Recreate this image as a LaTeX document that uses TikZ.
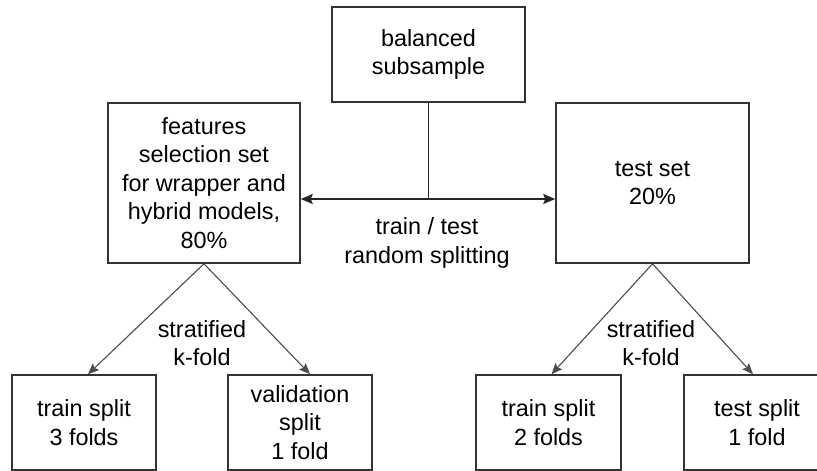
\documentclass[tikz,border=0pt]{standalone}
\usepackage{fontspec}
\setmainfont{Liberation Sans}
\usetikzlibrary{arrows.meta}
\begin{document}
\begin{tikzpicture}[x=1pt,y=-1pt,
  box/.style={draw=black!80,line width=1.5pt,rectangle,inner sep=0pt,
    align=center,font=\fontsize{23.4}{28.5}\selectfont},
  lbl/.style={align=center,inner sep=0pt,font=\fontsize{23.4}{28.5}\selectfont},
  mainline/.style={draw=black!85,line width=1.5pt},
  foldarrow/.style={draw=black!70,line width=1.1pt,-{Stealth[length=11pt,width=9pt,inset=2pt]}},
  splitarrow/.style={mainline,-{Stealth[length=12pt,width=10pt,inset=2pt]}}]
  \clip (0,0) rectangle (817,471);
  \fill[white] (0,0) rectangle (817,471);

  % source and the two halves
  \node[box,minimum width=193pt,minimum height=95pt] (bal) at (428.5,54.5) {balanced\\subsample};
  \node[box,minimum width=192pt,minimum height=160pt] (feat) at (204,183)
    {features\\selection set\\for wrapper and\\hybrid models,\\80\%};
  \node[box,minimum width=193pt,minimum height=160pt] (test) at (652.5,183) {test set\\20\%};

  % folds
  \node[box,minimum width=144pt,minimum height=95pt] (tr3) at (84,422.5) {train split\\3 folds};
  \node[box,minimum width=144pt,minimum height=95pt] (val) at (300,422.5) {validation\\split\\1 fold};
  \node[box,minimum width=145pt,minimum height=95pt] (tr2) at (548.5,422.5) {train split\\2 folds};
  \node[box,minimum width=146pt,minimum height=95pt] (ts) at (757,422.5) {test split\\1 fold};

  % train / test split
  \coordinate (split) at (428.5,199);
  \draw[mainline] (bal.south) -- (split);
  \draw[splitarrow] (split) -- (split -| feat.east);
  \draw[splitarrow] (split) -- (split -| test.west);
  \node[lbl] (splitlbl) at (427,243) {train / test\\random splitting};

  % stratified k-fold
  \draw[foldarrow] (feat.south) -- ([xshift=4pt]tr3.north);
  \draw[foldarrow] (feat.south) -- ([xshift=10pt]val.north);
  \draw[foldarrow] (test.south) -- ([xshift=3pt]tr2.north);
  \draw[foldarrow] (test.south) -- ([xshift=-4pt]ts.north);
  \node[lbl] (kfl) at (202,343) {stratified\\k-fold};
  \node[lbl] (kfr) at (651,343) {stratified\\k-fold};
\end{tikzpicture}
\end{document}
